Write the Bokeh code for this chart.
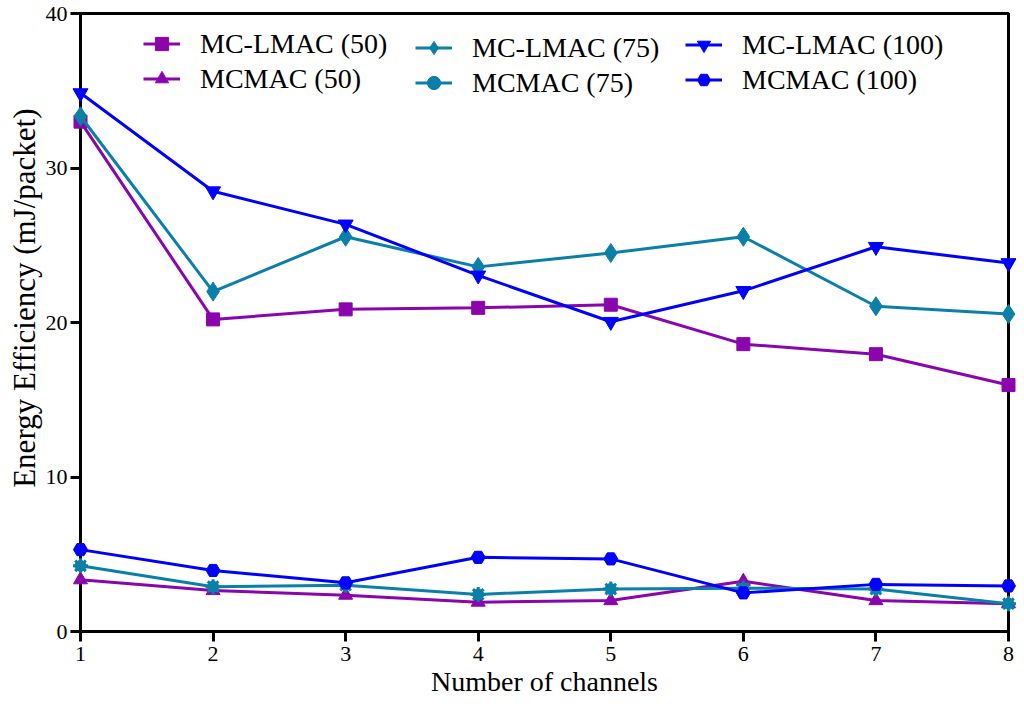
from bokeh.plotting import figure
from bokeh.models import Legend, LegendItem, Range1d, FixedTicker, Title
from bokeh.embed import file_html
from bokeh.resources import INLINE

# ---------------- data ----------------
channels = [1, 2, 3, 4, 5, 6, 7, 8]
y_ticks = [0, 10, 20, 30, 40]

mclmac_50 = [33.0, 20.2, 20.85, 20.95, 21.15, 18.6, 17.95, 15.95]
mclmac_75 = [33.35, 22.0, 25.55, 23.6, 24.5, 25.55, 21.05, 20.55]
mclmac_100 = [34.85, 28.5, 26.35, 23.05, 20.05, 22.05, 24.9, 23.85]
mcmac_50 = [3.35, 2.65, 2.35, 1.9, 2.0, 3.25, 2.0, 1.8]
mcmac_75 = [4.25, 2.9, 3.0, 2.4, 2.75, 2.8, 2.75, 1.8]
mcmac_100 = [5.3, 3.95, 3.15, 4.8, 4.7, 2.5, 3.05, 2.95]

labels = ["MC-LMAC (50)", "MC-LMAC (75)", "MC-LMAC (100)",
          "MCMAC (50)", "MCMAC (75)", "MCMAC (100)"]
x_title = "Number of channels"
y_title = "Energy Efficiency (mJ/packet)"

PURPLE = "#8A05AC"
TEAL = "#0A80A8"
BLUE = "#0000FF"
FONT = "'Liberation Serif', 'Times New Roman', serif"

W, H = 1016, 705
BL, BT, BR, BB = 80, 13, 8, 74
FH = H - BT - BB

p = figure(width=W, height=H, output_backend="svg", toolbar_location=None,
           x_range=Range1d(1, 8), y_range=Range1d(0, 40),
           min_border_left=BL, min_border_top=BT, min_border_right=BR,
           min_border_bottom=BB)
p.xgrid.visible = False
p.ygrid.visible = False
p.outline_line_color = "black"
p.outline_line_width = 3
p.outline_line_alpha = 1.0
p.background_fill_color = "white"
p.border_fill_color = "white"

for ax in (p.xaxis[0], p.yaxis[0]):
    ax.axis_line_width = 3
    ax.axis_line_color = "black"
    ax.major_tick_line_width = 3
    ax.major_tick_line_color = "black"
    ax.major_tick_out = 10
    ax.major_tick_in = 0
    ax.minor_tick_line_color = None
    ax.major_label_text_font = FONT
    ax.major_label_text_font_size = "22px"
    ax.major_label_text_color = "black"
    ax.axis_label_text_font = FONT
    ax.axis_label_text_font_style = "normal"
    ax.axis_label_text_color = "black"

p.xaxis.ticker = FixedTicker(ticks=channels)
p.yaxis.ticker = FixedTicker(ticks=y_ticks)
p.xaxis.axis_label = x_title
p.xaxis.axis_label_text_font_size = "28px"
p.xaxis.major_label_standoff = 5
p.yaxis.major_label_standoff = 3
p.xaxis.axis_label_standoff = 2

# y-axis title: a side title, shifted a little above the frame centre
p.add_layout(Title(text=y_title, align="right", offset=95,
                   vertical_align="middle", standoff=0,
                   text_font=FONT, text_font_size="31px",
                   text_font_style="normal", text_color="black"), "left")


def series(ys, color, markers):
    rs = [p.line(channels, ys, line_color=color, line_width=3, level="overlay")]
    for m, size, lw in markers:
        rs.append(p.scatter(channels, ys, marker=m, size=size,
                            fill_color=color, line_color=color, line_width=lw,
                            level="overlay"))
    return rs


r_l50 = series(mclmac_50, PURPLE, [("square", 13, 1)])
r_l75 = series(mclmac_75, TEAL, [("diamond", 19, 1)])
r_l100 = series(mclmac_100, BLUE, [("inverted_triangle", 15, 1)])
r_m50 = series(mcmac_50, PURPLE, [("triangle", 14, 1)])
r_m75 = series(mcmac_75, TEAL, [("circle", 11, 1), ("asterisk", 15, 3)])
r_m100 = series(mcmac_100, BLUE, [("hex", 14, 1)])

LH = 68


def make_legend(items, x_left, top_rel):
    lg = Legend(items=items, location=(x_left, FH - top_rel - LH),
                orientation="vertical", padding=0, margin=0, spacing=2,
                glyph_width=37, glyph_height=33, label_height=33,
                label_standoff=20,
                label_text_font=FONT, label_text_font_size="28px",
                label_text_color="black",
                background_fill_alpha=0, border_line_alpha=0)
    p.add_layout(lg)


make_legend([LegendItem(label=labels[0], renderers=r_l50),
             LegendItem(label=labels[3], renderers=r_m50)], 63, 14)
make_legend([LegendItem(label=labels[1], renderers=r_l75),
             LegendItem(label=labels[4], renderers=r_m75)], 335, 18)
make_legend([LegendItem(label=labels[2], renderers=r_l100),
             LegendItem(label=labels[5], renderers=r_m100)], 605, 15)

open("out.html", "w").write(file_html(p, INLINE))
